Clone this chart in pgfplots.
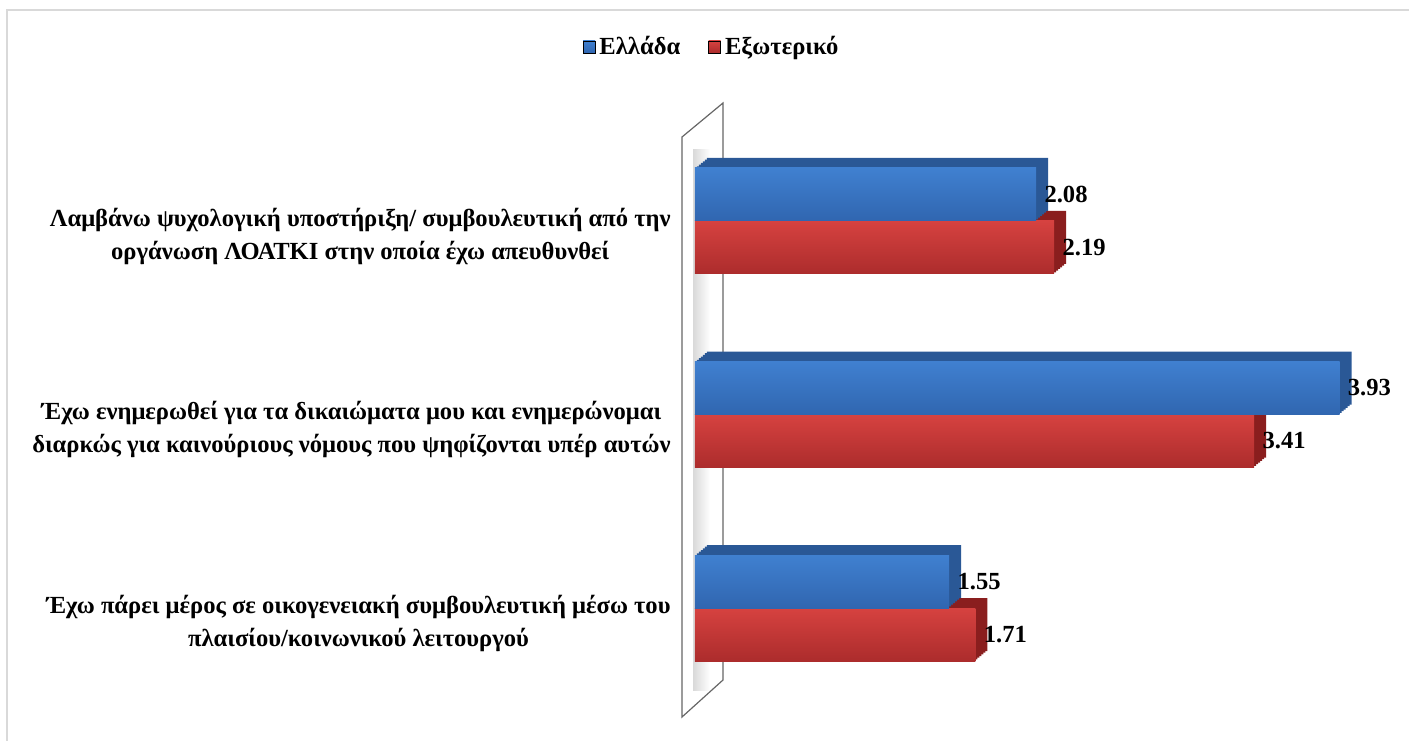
\documentclass[border=0pt]{standalone}
\usepackage{fontspec}
\setmainfont{Liberation Serif}
\usepackage{pgfplots}
\pgfplotsset{compat=1.18}

\definecolor{bluetop}{RGB}{64,128,208}
\definecolor{bluebot}{RGB}{48,102,176}
\definecolor{blueside}{RGB}{42,88,150}
\definecolor{redtop}{RGB}{214,66,64}
\definecolor{redbot}{RGB}{172,44,44}
\definecolor{redside}{RGB}{138,30,30}

\newcommand{\lbl}{\bfseries\fontsize{12.3}{16.5}\selectfont}

\pgfplotsset{
  redfront/.style={forget plot, draw=none, top color=redtop, bottom color=redbot, bar shift=-13.25pt},
  bluefront/.style={forget plot, draw=none, top color=bluetop, bottom color=bluebot, bar shift=13.25pt},
}

\begin{document}
\begin{tikzpicture}
\path[use as bounding box] (0,0) rectangle (704.5pt,370pt);
% frame
\draw[gray!30, line width=0.75pt] (3.5pt,-10pt) rectangle (712pt,365pt);
% wall
\fill[left color=gray!30, right color=white] (346.5pt,25pt) rectangle (355pt,295pt);
\draw[gray!80!black, line width=0.6pt] (341pt,301.5pt) -- (361.5pt,318.5pt) -- (361.5pt,30pt) -- (341pt,11.5pt) -- cycle;

\begin{axis}[
at={(347.5pt,7.95pt)}, anchor=south west,
scale only axis,
width=344.4pt, height=309.6pt,
xmin=0, xmax=4.2,
ymin=-0.6, ymax=2.6,
hide x axis,
y axis line style={draw=none},
major tick length=0pt,
ytick={0,1,2},
yticklabels={
{Έχω πάρει μέρος σε οικογενειακή συμβουλευτική μέσω του\\πλαισίου/κοινωνικού λειτουργού},
{Έχω ενημερωθεί για τα δικαιώματα μου και ενημερώνομαι\\διαρκώς για καινούριους νόμους που ψηφίζονται υπέρ αυτών},
{Λαμβάνω ψυχολογική υποστήριξη/ συμβουλευτική από την\\οργάνωση ΛΟΑΤΚΙ στην οποία έχω απευθυνθεί}},
yticklabel style={font=\lbl, align=center, inner sep=0pt, anchor=east, xshift=-12pt, yshift=-7.5pt},
xbar, bar width=26.5pt,
clip=false,
nodes near coords,
every node near coord/.append style={font=\lbl, anchor=west, xshift=4pt, inner sep=0pt},
/pgf/number format/.cd, fixed, precision=2, fixed zerofill, assume math mode=true,
/pgfplots/.cd,
legend style={at={(0.0254,1.0935)}, anchor=center, draw=none, fill=none,
  legend columns=2, font=\lbl,
  /tikz/every even column/.append style={column sep=12pt}},
legend image code/.code={\fill[#1] (0pt,-3pt) rectangle (6pt,3pt);},
]
\addlegendimage{top color=bluetop, bottom color=bluebot}
\addlegendentry{Ελλάδα}
\addlegendimage{top color=redtop, bottom color=redbot}
\addlegendentry{Εξωτερικό}

% red (Εξωτερικό): 3D depth (stacked shifted copies), then front faces
\pgfplotsinvokeforeach{1,...,6}{
\addplot[forget plot, draw=none, fill=redside, bar shift=-13.25pt, xshift=#1pt, yshift={#1*0.8333pt}, nodes near coords={}]
coordinates {(1.71,0) (3.41,1) (2.19,2)};
}
\addplot[redfront] coordinates {(1.71,0)};
\addplot[redfront] coordinates {(3.41,1)};
\addplot[redfront] coordinates {(2.19,2)};
% blue (Ελλάδα)
\pgfplotsinvokeforeach{1,...,6}{
\addplot[forget plot, draw=none, fill=blueside, bar shift=13.25pt, xshift=#1pt, yshift={#1*0.8333pt}, nodes near coords={}]
coordinates {(1.55,0) (3.93,1) (2.08,2)};
}
\addplot[bluefront] coordinates {(1.55,0)};
\addplot[bluefront] coordinates {(3.93,1)};
\addplot[bluefront] coordinates {(2.08,2)};
\end{axis}
\end{tikzpicture}
\end{document}
